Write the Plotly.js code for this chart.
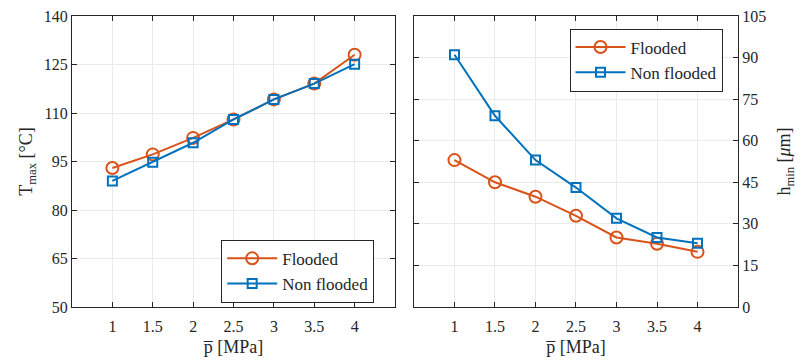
<!DOCTYPE html>
<html><head><meta charset="utf-8">
<script src="https://cdn.plot.ly/plotly-3.0.1.min.js"></script>
<style>html,body{margin:0;padding:0;background:#fff}</style>
</head><body>
<div id="chart" style="width:805px;height:362px"></div>
<script>
const pressure = [1, 1.5, 2, 2.5, 3, 3.5, 4];
const tmaxFlooded = [93, 97.2, 102.3, 108, 114.2, 119.1, 128];
const tmaxNonFlooded = [89, 94.8, 100.8, 108, 114.2, 119.1, 125.1];
const hminFlooded = [53, 45, 39.8, 32.9, 25.1, 22.8, 19.9];
const hminNonFlooded = [91, 69, 53, 43.1, 32, 25.1, 23];
const xTicks = [1, 1.5, 2, 2.5, 3, 3.5, 4];
const tmaxTicks = [50, 65, 80, 95, 110, 125, 140];
const hminTicks = [0, 15, 30, 45, 60, 75, 90, 105];
const seriesNames = ['Flooded', 'Non flooded'];

const ORANGE = '#D95319', BLUE = '#0072BD', AX = '#262626';
const FONT = 'Liberation Serif';

function tr(x, y, name, color, sym, size, xa, ya, leg) {
  return {x, y, name, type: 'scatter', mode: 'lines+markers', xaxis: xa, yaxis: ya, legend: leg,
    line: {color, width: 2},
    marker: {symbol: sym, size, color: color, line: {color, width: 2}}};
}
const data = [
  tr(pressure, tmaxFlooded, seriesNames[0], ORANGE, 'circle-open', 12, 'x', 'y', 'legend'),
  tr(pressure, tmaxNonFlooded, seriesNames[1], BLUE, 'square-open', 9, 'x', 'y', 'legend'),
  tr(pressure, hminFlooded, seriesNames[0], ORANGE, 'circle-open', 12, 'x2', 'y2', 'legend2'),
  tr(pressure, hminNonFlooded, seriesNames[1], BLUE, 'square-open', 9, 'x2', 'y2', 'legend2')
];

function common() {
  return {showline: true, linecolor: AX, linewidth: 1, mirror: 'ticks', ticks: 'inside', ticklen: 5,
    tickcolor: AX, tickfont: {family: FONT, size: 16}, showgrid: true, gridcolor: '#ebebeb',
    gridwidth: 1, zeroline: false};
}
function xcommon() {
  return {range: [0.5, 4.5], tickvals: xTicks, ticktext: xTicks.map(String), ticklabelstandoff: 5,
    title: {text: 'p\u0305 [MPa]', font: {family: FONT, size: 18}, standoff: 6}};
}

const layout = {
  width: 805, height: 362, paper_bgcolor: '#fff', plot_bgcolor: '#fff',
  font: {family: FONT, color: AX},
  margin: {l: 72, r: 67, t: 16, b: 55},
  showlegend: true,
  xaxis: Object.assign(common(), xcommon(), {domain: [0, 0.485], anchor: 'y'}),
  yaxis: Object.assign(common(), {range: [50, 140], tickvals: tmaxTicks, anchor: 'x',
    title: {text: 'T<sub>max</sub> [°C]', font: {family: FONT, size: 18}, standoff: 6}}),
  xaxis2: Object.assign(common(), xcommon(), {domain: [0.5135, 1], anchor: 'y2'}),
  yaxis2: Object.assign(common(), {range: [0, 105], tickvals: hminTicks, anchor: 'x2', side: 'right',
    title: {text: 'h<sub>min</sub> [<i>μ</i>m]', font: {family: FONT, size: 18}, standoff: 12}}),
  legend: {x: 0.224, y: 0.231, xanchor: 'left', yanchor: 'top', bgcolor: '#fff', bordercolor: AX, borderwidth: 1,
    font: {family: FONT, size: 17}, tracegroupgap: 0, itemwidth: 50},
  legend2: {x: 0.747, y: 0.957, xanchor: 'left', yanchor: 'top', bgcolor: '#fff', bordercolor: AX, borderwidth: 1,
    font: {family: FONT, size: 17}, tracegroupgap: 0, itemwidth: 50}
};
Plotly.newPlot('chart', data, layout, {displayModeBar: false, staticPlot: true}).then(function (gd) {
  gd.querySelectorAll('text, tspan').forEach(function (t) {
    t.style.setProperty('font-family', "'Liberation Serif', 'Times New Roman', serif", 'important');
  });
});
</script>
</body></html>
